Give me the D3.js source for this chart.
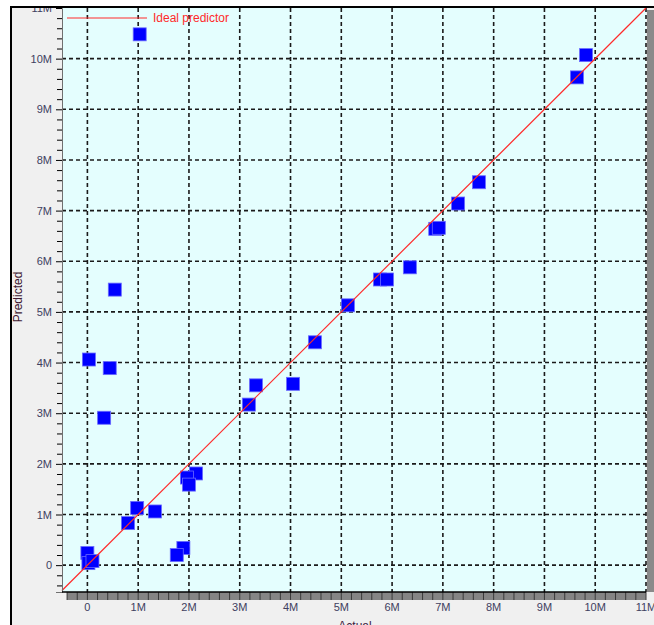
<!DOCTYPE html>
<html>
<head>
<meta charset="utf-8">
<script src="https://cdn.jsdelivr.net/npm/d3@7"></script>
<style>
body { margin: 0; background: #fff; }
svg { display: block; }
text { font-family: "Liberation Sans", Arial, sans-serif; }
</style>
</head>
<body>
<svg></svg>
<script>
// values in millions
var actual    = [1.03, 9.82, 9.64, 7.71, 7.30, 6.85, 6.92, 6.35, 5.76, 5.90, 5.13, 4.48, 4.05, 3.32, 3.18,
                 0.54, 0.03, 0.44, 0.33, 2.14, 1.96, 2.00, 0.98, 1.33, 0.80, 1.89, 1.76, 0.00, 0.02, 0.10];
var predicted = [10.48, 10.07, 9.63, 7.56, 7.14, 6.64, 6.66, 5.88, 5.64, 5.64, 5.13, 4.40, 3.58, 3.55, 3.17,
                 5.44, 4.06, 3.89, 2.91, 1.81, 1.73, 1.59, 1.13, 1.06, 0.83, 0.34, 0.20, 0.24, 0.04, 0.08];
var tickValues = d3.range(0, 12);
var tickLabels = ["0", "1M", "2M", "3M", "4M", "5M", "6M", "7M", "8M", "9M", "10M", "11M"];
var minorTicks = d3.range(-0.4, 11, 0.2).filter(function (v) {
  return Math.abs(v - Math.round(v)) > 0.01;
});

var W = 654, H = 625;
var plotLeft = 62, plotRight = 646, plotTop = 8, plotBottom = 592;
var labelColor = "#404060";

var x = d3.scaleLinear().domain([-0.5, 11]).range([plotLeft, plotRight]);
var y = d3.scaleLinear().domain([-0.53, 11]).range([plotBottom, plotTop]);

var svg = d3.select("svg").attr("width", W).attr("height", H);

// window frame
svg.append("rect").attr("x", 0).attr("y", 0).attr("width", W).attr("height", H).attr("fill", "#fff");
svg.append("rect").attr("x", 11).attr("y", 7).attr("width", W - 11).attr("height", H - 7).attr("fill", "#f0f0f0");

// plot area
svg.append("rect")
  .attr("x", plotLeft).attr("y", plotTop)
  .attr("width", plotRight - plotLeft).attr("height", plotBottom - plotTop)
  .attr("fill", "#e4fefe");

// grid
svg.append("g").selectAll("line")
  .data(tickValues)
  .enter().append("line")
  .attr("x1", function (d) { return x(d); })
  .attr("x2", function (d) { return x(d); })
  .attr("y1", plotTop).attr("y2", plotBottom)
  .attr("stroke", "#1a1a1a").attr("stroke-width", 1.6)
  .attr("stroke-dasharray", "4,3");
svg.append("g").selectAll("line")
  .data(tickValues.slice(0, 11))
  .enter().append("line")
  .attr("y1", function (d) { return y(d); })
  .attr("y2", function (d) { return y(d); })
  .attr("x1", plotLeft).attr("x2", plotRight)
  .attr("stroke", "#1a1a1a").attr("stroke-width", 1.6)
  .attr("stroke-dasharray", "4,3");

// points
svg.append("g").selectAll("rect")
  .data(actual)
  .enter().append("rect")
  .attr("x", function (d) { return x(d) - 6.5; })
  .attr("y", function (d, i) { return y(predicted[i]) - 6.5; })
  .attr("width", 13).attr("height", 13)
  .attr("fill", "#0000ff")
  .attr("stroke", "#6a6aff").attr("stroke-width", 0.8);

// ideal predictor line
svg.append("line")
  .attr("x1", x(-0.5)).attr("y1", y(-0.5))
  .attr("x2", x(11)).attr("y2", y(11))
  .attr("stroke", "#ff2a2a").attr("stroke-width", 1.2);

// legend
svg.append("line")
  .attr("x1", 67).attr("x2", 147).attr("y1", 18).attr("y2", 18)
  .attr("stroke", "#ff2a2a").attr("stroke-width", 1.2);
svg.append("text")
  .attr("x", 153).attr("y", 22)
  .attr("font-size", 12).attr("fill", "#ff2a2a")
  .text("Ideal predictor");

// y axis
var yAxis = d3.axisLeft(y).tickValues(tickValues).tickSize(6).tickPadding(4)
  .tickFormat(function (d, i) { return tickLabels[i]; });
var gy = svg.append("g").attr("transform", "translate(" + plotLeft + ",0)").call(yAxis);
gy.select(".domain").attr("stroke", "#707070");
gy.selectAll(".tick line").attr("stroke", "#000");
gy.selectAll(".tick text").attr("font-size", 11).attr("fill", labelColor)
  .attr("font-family", "'Liberation Sans', Arial, sans-serif");

var gyMinor = svg.append("g").attr("transform", "translate(" + plotLeft + ",0)")
  .call(d3.axisLeft(y).tickValues(minorTicks).tickSize(5).tickFormat(""));
gyMinor.select(".domain").remove();
gyMinor.selectAll(".tick line").attr("stroke", "#000");

// x ruler band
svg.append("rect")
  .attr("x", 67).attr("y", plotBottom)
  .attr("width", plotRight - 67).attr("height", 8)
  .attr("fill", "#858585");
svg.append("g").selectAll("line")
  .data(minorTicks.concat(tickValues).filter(function (v) { return x(v) >= 67; }))
  .enter().append("line")
  .attr("x1", function (d) { return x(d); })
  .attr("x2", function (d) { return x(d); })
  .attr("y1", plotBottom).attr("y2", plotBottom + 8)
  .attr("stroke", "#3a3a3a").attr("stroke-width", 1);
svg.append("line")
  .attr("x1", plotLeft).attr("x2", plotRight).attr("y1", plotBottom).attr("y2", plotBottom)
  .attr("stroke", "#000").attr("stroke-width", 1.5);

// x tick labels
svg.append("g").selectAll("text")
  .data(tickValues)
  .enter().append("text")
  .attr("x", function (d) { return x(d); })
  .attr("y", 611)
  .attr("text-anchor", "middle")
  .attr("font-size", 11).attr("fill", labelColor)
  .text(function (d, i) { return tickLabels[i]; });

// right dark strip
svg.append("rect").attr("x", 647).attr("y", 10).attr("width", 7).attr("height", plotBottom - 10)
  .attr("fill", "#8a8a8a");

// axis titles
svg.append("text")
  .attr("x", 355).attr("y", 630)
  .attr("text-anchor", "middle")
  .attr("font-size", 12).attr("fill", "#402040")
  .text("Actual");
svg.append("text")
  .attr("transform", "translate(22,297) rotate(-90)")
  .attr("text-anchor", "middle")
  .attr("font-size", 12).attr("fill", "#401830")
  .text("Predicted");

// frame lines drawn last (cover clipped top label)
svg.append("rect").attr("x", 0).attr("y", 0).attr("width", W).attr("height", 6).attr("fill", "#fff");
svg.append("rect").attr("x", 0).attr("y", 0).attr("width", 10).attr("height", H).attr("fill", "#fff");
svg.append("rect").attr("x", 10).attr("y", 6).attr("width", W - 10).attr("height", 2).attr("fill", "#000");
svg.append("rect").attr("x", 10).attr("y", 6).attr("width", 2).attr("height", H - 6).attr("fill", "#000");
</script>
</body>
</html>
